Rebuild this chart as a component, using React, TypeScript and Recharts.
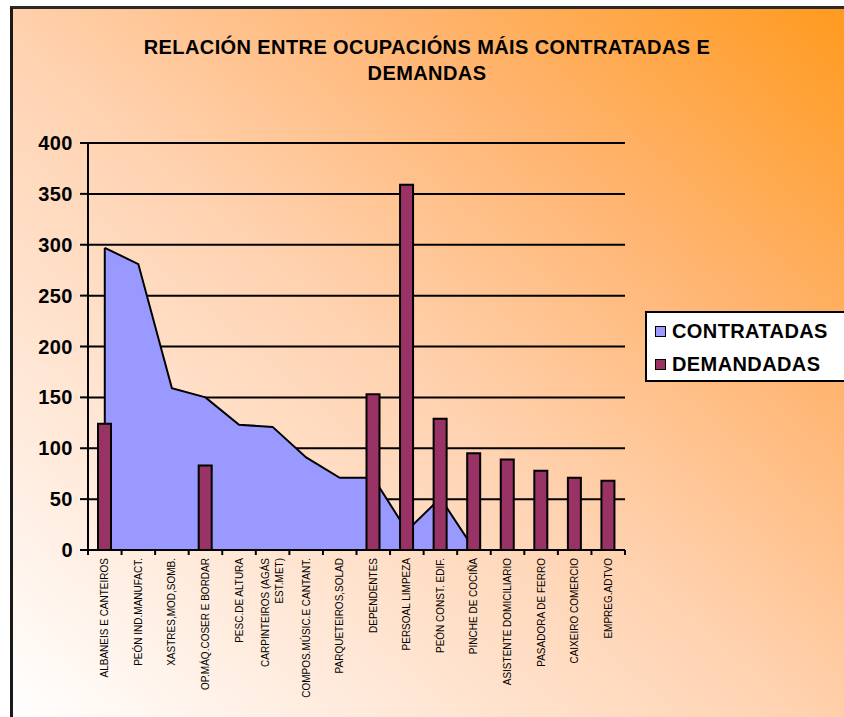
import React from 'react';
import { ComposedChart, Area, Bar, XAxis, YAxis, CartesianGrid, ReferenceLine } from 'recharts';

const categories = [
  'ALBANEIS E CANTEIROS',
  'PEÓN IND.MANUFACT.',
  'XASTRES,MOD,SOMB.',
  'OP.MÁQ.COSER E BORDAR',
  'PESC.DE ALTURA',
  'CARPINTEIROS (AGÁS EST.MET)',
  'COMPOS.MÚSIC.E CANTANT.',
  'PARQUETEIROS,SOLAD',
  'DEPENDENTES',
  'PERSOAL LIMPEZA',
  'PEÓN CONST. EDIF.',
  'PINCHE DE COCIÑA',
  'ASISTENTE DOMICILIARIO',
  'PASADORA DE FERRO',
  'CAIXEIRO COMERCIO',
  'EMPREG.ADTVO',
];

const contratadas: (number | null)[] = [297, 281, 159, 150, 123, 121, 91, 71, 71, 19, 51, 1, null, null, null, null];
const demandadas: (number | null)[] = [124, null, null, 83, null, null, null, null, 153, 359, 129, 95, 89, 78, 71, 68];

const yTicks = [0, 50, 100, 150, 200, 250, 300, 350, 400];

const seriesNames = ['CONTRATADAS', 'DEMANDADAS'];
const seriesColors = ['#9999FF', '#993366'];

const titleLines = ['RELACIÓN ENTRE OCUPACIÓNS MÁIS CONTRATADAS E', 'DEMANDAS'];

const FONT = '"Liberation Sans", Arial, sans-serif';

const data = categories.map((name, i) => ({
  name,
  contratadas: contratadas[i],
  demandadas: demandadas[i],
}));

function wrapLabel(s: string, max: number): string[] {
  const words = s.split(' ');
  const lines: string[] = [];
  let cur = '';
  for (const w of words) {
    const next = cur ? cur + ' ' + w : w;
    if (next.length > max && cur) {
      lines.push(cur);
      cur = w;
    } else {
      cur = next;
    }
  }
  if (cur) lines.push(cur);
  return lines;
}

const XTick = (props: any) => {
  const { x, y, payload, index, visibleTicksCount } = props;
  const half = typeof payload?.offset === 'number' && payload.offset > 0 ? payload.offset : 16.8;
  const lines = wrapLabel(String(payload.value), 24);
  const lh = 14;
  const isLast = index === (visibleTicksCount ?? categories.length) - 1;
  return (
    <g>
      <line x1={x - half} y1={y} x2={x - half} y2={y + 5} stroke="#000" strokeWidth={2} />
      {isLast && <line x1={x + half} y1={y} x2={x + half} y2={y + 5} stroke="#000" strokeWidth={2} />}
      <text
        transform={`translate(${x},${y + 8}) rotate(-90)`}
        textAnchor="end"
        fontSize={10}
        fontFamily={FONT}
        fill="#000"
      >
        {lines.map((ln, i) => (
          <tspan key={i} x={0} dy={i === 0 ? -((lines.length - 1) / 2) * lh + 3.5 : lh}>
            {ln}
          </tspan>
        ))}
      </text>
    </g>
  );
};

export default function App() {
  return (
    <div style={{ position: 'absolute', left: 0, top: 0, width: 844, height: 717, background: '#fff', overflow: 'hidden' }}>
      <div
        style={{
          position: 'absolute',
          left: 10,
          top: 6,
          width: 840,
          height: 720,
          boxSizing: 'border-box',
          borderLeft: '3px solid #1a1a1a',
          borderTop: '3px solid #2a2a2a',
          background: 'linear-gradient(to top right, #FFFFFF 0%, #FFEADB 22%, #FFD2B0 48%, #FFB572 72%, #FF9A1E 100%)',
        }}
      />
      <div
        style={{
          position: 'absolute',
          left: 10,
          width: 834,
          top: 34,
          textAlign: 'center',
          fontFamily: FONT,
          fontWeight: 'bold',
          fontSize: 20,
          letterSpacing: 0.4,
          lineHeight: '26px',
          color: '#000',
        }}
      >
        {titleLines.map((t, i) => (
          <div key={i}>{t}</div>
        ))}
      </div>
      <div style={{ position: 'absolute', left: 0, top: 0 }}>
        <ComposedChart
          width={844}
          height={717}
          data={data}
          margin={{ top: 143, right: 219, bottom: 0, left: 0 }}
          barCategoryGap={0}
        >
          <CartesianGrid vertical={false} stroke="#000" strokeWidth={2} />
          <XAxis
            dataKey="name"
            interval={0}
            axisLine={{ stroke: '#000', strokeWidth: 2 }}
            tickLine={false}
            tickSize={0}
            tickMargin={0}
            height={167}
            tick={<XTick />}
          />
          <YAxis
            domain={[0, 400]}
            ticks={yTicks}
            interval={0}
            width={88}
            axisLine={{ stroke: '#000', strokeWidth: 2 }}
            tickLine={{ stroke: '#000', strokeWidth: 2 }}
            tickSize={8}
            tickMargin={7}
            tick={{ fill: '#000', fontSize: 20, fontWeight: 'bold', fontFamily: FONT, letterSpacing: 0.5 }}
          />
          <Area
            type="linear"
            dataKey="contratadas"
            name={seriesNames[0]}
            fill={seriesColors[0]}
            fillOpacity={1}
            stroke="#000"
            strokeWidth={2}
            isAnimationActive={false}
            dot={false}
            activeDot={false}
          />
          <ReferenceLine
            segment={[
              { x: categories[0], y: demandadas[0] as number },
              { x: categories[0], y: contratadas[0] as number },
            ]}
            stroke="#000"
            strokeWidth={2}
          />
          <Bar
            dataKey="demandadas"
            name={seriesNames[1]}
            barSize={13}
            fill={seriesColors[1]}
            stroke="#000"
            strokeWidth={2}
            isAnimationActive={false}
          />
        </ComposedChart>
      </div>
      <div
        style={{
          position: 'absolute',
          left: 645,
          top: 311,
          width: 205,
          height: 71,
          boxSizing: 'border-box',
          border: '2px solid #000',
          background: '#fff',
          fontFamily: FONT,
          fontWeight: 'bold',
          fontSize: 20,
          letterSpacing: 0.4,
          color: '#000',
        }}
      >
        {seriesNames.map((n, i) => (
          <div
            key={n}
            style={{ position: 'absolute', left: 8, top: 7 + i * 33, height: 23, display: 'flex', alignItems: 'center' }}
          >
            <span
              style={{
                display: 'inline-block',
                width: 9,
                height: 9,
                border: '1.5px solid #000',
                background: seriesColors[i],
                marginRight: 6,
              }}
            />
            <span>{n}</span>
          </div>
        ))}
      </div>
    </div>
  );
}
